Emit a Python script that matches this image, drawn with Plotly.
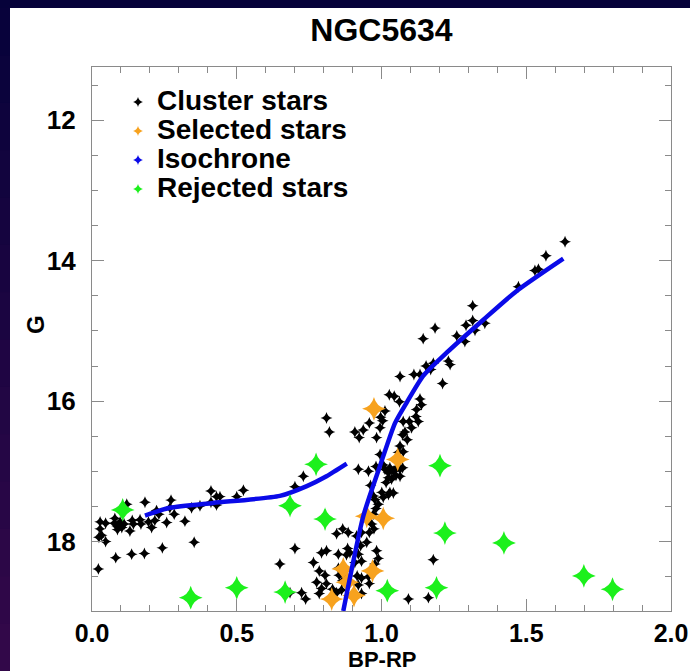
import plotly.graph_objects as go

# ---- data -------------------------------------------------------------
cluster_bprp = [
    0.022, 0.028, 0.028, 0.047, 0.033, 0.024, 0.047, 0.079, 0.077, 0.087,
    0.097, 0.088, 0.103, 0.111, 0.120, 0.131, 0.139, 0.143, 0.166, 0.169,
    0.183, 0.195, 0.206, 0.217, 0.223, 0.231, 0.258, 0.273, 0.269, 0.284,
    0.321, 0.344, 0.373, 0.411, 0.411, 0.430, 0.442, 0.430, 0.500, 0.523,
    0.701, 0.730, 0.776, 0.810, 0.820, 0.082, 0.137, 0.181, 0.243, 0.353,
    0.649, 0.701,
    0.738, 0.724, 0.684, 0.765, 0.785, 0.805, 0.776, 0.810, 0.793, 0.785,
    0.831, 0.845, 0.862, 0.793, 0.810, 0.851, 0.879, 0.891, 0.883, 0.845,
    0.866, 0.885, 0.914, 0.931, 0.958, 0.949, 0.928, 0.920, 0.931, 0.908,
    0.983, 0.989, 0.977, 0.851, 0.854, 0.866, 0.879, 0.916, 0.931, 0.920,
    0.958, 0.955, 0.931, 0.966, 0.974, 0.972, 0.981, 0.989, 0.977, 1.006,
    1.024, 1.041, 1.179, 1.093, 1.162, 1.001, 1.029, 0.972, 0.962, 1.016,
    1.024, 1.035, 1.050, 1.064, 0.920, 0.955, 0.981, 1.006, 1.012, 1.024,
    1.029, 1.041, 1.052, 1.064, 1.073, 0.995, 1.058, 1.075, 1.064, 1.089,
    1.081, 1.104, 1.127, 1.096, 1.075, 1.121, 1.133, 1.138, 1.119, 0.908,
    0.937, 0.923, 0.958, 0.997, 1.004, 0.995, 0.983, 1.012, 1.027, 1.044,
    1.062, 1.073,
    1.064, 1.112, 1.133, 1.154, 1.170, 1.179, 1.231, 1.237, 1.211, 1.144,
    1.185, 1.260, 1.288, 1.292, 1.315, 1.315, 1.323, 1.357, 1.473, 1.530,
    1.542, 1.568, 1.634,
]
cluster_g = [
    18.39, 17.72, 17.82, 17.74, 17.91, 17.94, 18.00, 17.67, 17.74, 17.78,
    17.72, 17.83, 17.80, 17.75, 17.47, 17.85, 17.70, 17.75, 17.69, 17.75,
    17.44, 17.72, 17.80, 17.70, 17.56, 17.61, 17.73, 17.41, 17.52, 17.61,
    17.71, 17.52, 17.49, 17.28, 17.44, 17.36, 17.36, 17.48, 17.36, 17.27,
    17.22, 17.07, 16.93, 16.24, 16.44, 18.23, 18.18, 18.17, 18.09, 18.01,
    18.32, 18.10,
    18.82, 18.73, 18.73, 18.30, 18.42, 18.48, 18.58, 18.60, 18.67, 18.74,
    18.68, 18.73, 18.69, 18.16, 18.13, 18.18, 18.19, 18.16, 18.10, 17.89,
    17.82, 17.87, 17.92, 17.87, 17.87, 18.01, 18.06, 18.18, 18.28, 18.30,
    18.13, 18.24, 18.32, 18.38, 18.48, 18.56, 18.52, 18.49, 18.52, 18.62,
    18.60, 18.50, 18.74, 17.75, 17.82, 17.61, 17.53, 17.47, 17.40, 17.37,
    17.33, 17.31, 18.26, 18.82, 18.80, 17.30, 17.30, 17.35, 17.20, 17.16,
    17.09, 17.11, 17.06, 17.07, 16.97, 17.00, 16.93, 16.91, 16.97, 17.02,
    16.95, 17.00, 16.95, 16.97, 16.95, 16.76, 16.73, 16.72, 16.64, 16.55,
    16.44, 16.38, 16.29, 16.29, 16.29, 16.12, 15.97, 16.05, 16.22, 16.44,
    16.41, 16.52, 16.31, 16.23, 16.28, 16.38, 16.52, 16.14, 15.91, 15.93,
    16.01, 16.48,
    15.65, 15.62, 15.62, 15.50, 15.55, 15.46, 15.43, 15.48, 15.75, 15.11,
    14.96, 15.07, 15.15, 14.92, 14.85, 14.64, 14.99, 14.89, 14.37, 14.14,
    14.12, 13.93, 13.73,
]

selected_bprp = [0.974, 1.056, 0.949, 1.006, 0.868, 0.969, 0.828, 0.905, 0.882]
selected_g = [16.11, 16.83, 17.64, 17.67, 18.39, 18.42, 18.82, 18.77, 18.58]

rejected_bprp = [0.106, 0.341, 0.500, 0.667, 0.684, 0.805, 0.774, 1.202,
                 1.219, 1.423, 1.699, 1.798, 1.020, 1.190]
rejected_g = [17.55, 18.80, 18.66, 18.72, 17.49, 17.68, 16.90, 16.92,
              17.88, 18.02, 18.49, 18.68, 18.70, 18.66]

# isochrone: horizontal branch, then the giant branch (None splits them)
iso_bprp = [0.183, 0.269, 0.419, 0.649, 0.742, 0.810, 0.880, None,
            0.868, 0.937, 0.995, 1.047, 1.087, 1.144, 1.225, 1.352, 1.467, 1.628]
iso_g = [17.63, 17.52, 17.45, 17.35, 17.21, 17.07, 16.89, None,
         18.99, 17.64, 16.92, 16.31, 16.02, 15.64, 15.31, 14.84, 14.43, 13.97]

x_ticks = [0.0, 0.5, 1.0, 1.5, 2.0]
x_ticklabels = ["0.0", "0.5", "1.0", "1.5", "2.0"]
y_ticks = [12, 14, 16, 18]
y_ticklabels = ["12", "14", "16", "18"]

legend_names = ["Cluster stars", "Selected stars", "Isochrone", "Rejected stars"]

# ---- styles -----------------------------------------------------------
BLACK = "#000000"
ORANGE = "#f7a21e"
BLUE = "#0a0ae8"
GREEN = "#1cf01c"
legend_colors = [BLACK, ORANGE, BLUE, GREEN]
FONT = "Liberation Sans, Arial, sans-serif"
AXIS_GREY = "#8a8a8a"

W, H = 690, 671
ML, MR, MT, MB = 92, 19, 67, 60


def px_to_paper_x(px):
    return (px - ML) / (W - ML - MR)


def px_to_paper_y(py):
    return (H - MB - py) / (H - MT - MB)


fig = go.Figure()

fig.add_trace(go.Scatter(
    x=cluster_bprp, y=cluster_g, mode="markers", showlegend=False,
    marker=dict(symbol="star-diamond", size=8.5, color=BLACK, line=dict(width=0)),
))
fig.add_trace(go.Scatter(
    x=selected_bprp, y=selected_g, mode="markers", showlegend=False,
    marker=dict(symbol="star-diamond", size=17, color=ORANGE, line=dict(width=0)),
))
fig.add_trace(go.Scatter(
    x=iso_bprp, y=iso_g, mode="lines", showlegend=False,
    line=dict(color=BLUE, width=4.5, shape="spline", smoothing=0.6),
    connectgaps=False,
))
fig.add_trace(go.Scatter(
    x=rejected_bprp, y=rejected_g, mode="markers", showlegend=False,
    marker=dict(symbol="star-diamond", size=17, color=GREEN, line=dict(width=0)),
))

# key: small star symbols on a hidden overlay axis in plot-fraction units
key_sym_x = px_to_paper_x(138)
key_text_x = px_to_paper_x(155)
key_rows_y = [px_to_paper_y(py) for py in (102, 131, 160, 189)]
fig.add_trace(go.Scatter(
    x=[key_sym_x] * len(legend_names), y=key_rows_y,
    xaxis="x2", yaxis="y2", mode="markers", showlegend=False, hoverinfo="skip",
    marker=dict(symbol="star-diamond", size=7, color=legend_colors,
                line=dict(width=0)),
))
annotations = [
    dict(text="<b>%s</b>" % name, xref="paper", yref="paper",
         x=key_text_x, y=yy + 1.5 / (H - MT - MB), xanchor="left",
         yanchor="middle", showarrow=False,
         font=dict(family=FONT, size=28, color="#000000"))
    for name, yy in zip(legend_names, key_rows_y)
]

# axis titles
annotations.append(dict(
    text="<b>BP-RP</b>", xref="paper", yref="paper",
    x=0.5, y=px_to_paper_y(659), xanchor="center", yanchor="middle",
    showarrow=False, borderpad=0,
    font=dict(family=FONT, size=22, color="#000000")))
annotations.append(dict(
    text="<b>G</b>", xref="paper", yref="paper",
    x=px_to_paper_x(35), y=px_to_paper_y(325), xanchor="center",
    yanchor="middle", textangle=-90, showarrow=False,
    font=dict(family=FONT, size=24, color="#000000")))

# dark frame on the top and left edges of the page
shapes = [dict(type="rect", xref="paper", yref="paper",
               x0=px_to_paper_x(0), x1=px_to_paper_x(W),
               y0=px_to_paper_y(8), y1=px_to_paper_y(0),
               fillcolor="#06023a", line=dict(width=0), layer="below")]
n_bands = 14
top_rgb = (6, 2, 58)
bot_rgb = (52, 8, 74)
for i in range(n_bands):
    t = (i + 0.5) / n_bands
    c = tuple(int(round(a + (b - a) * t)) for a, b in zip(top_rgb, bot_rgb))
    y_top = 8 + (H - 8) * i / n_bands
    y_bot = 8 + (H - 8) * (i + 1) / n_bands
    shapes.append(dict(type="rect", xref="paper", yref="paper",
                       x0=px_to_paper_x(0), x1=px_to_paper_x(10),
                       y0=px_to_paper_y(y_bot + 1), y1=px_to_paper_y(y_top),
                       fillcolor="rgb(%d,%d,%d)" % c, line=dict(width=0),
                       layer="below"))

axis_common = dict(
    showgrid=False, zeroline=False, showline=True, linecolor=AXIS_GREY,
    linewidth=1.2, mirror="ticks", ticks="inside", ticklen=12, tickwidth=1.2,
    tickcolor=AXIS_GREY, automargin=False,
)

fig.update_layout(
    width=W, height=H,
    margin=dict(l=ML, r=MR, t=MT, b=MB, autoexpand=False),
    paper_bgcolor="#ffffff", plot_bgcolor="#ffffff",
    showlegend=False,
    shapes=shapes,
    annotations=annotations,
    title=dict(text="<b>NGC5634</b>", x=0.5, xref="paper", xanchor="center",
               y=1 - 30 / H, yanchor="middle",
               font=dict(family=FONT, size=32, color="#000000")),
    xaxis=dict(
        range=[0, 2], tickvals=x_ticks, ticktext=x_ticklabels,
        minor=dict(dtick=0.1, ticks="inside", ticklen=6, tickwidth=1.2,
                   tickcolor=AXIS_GREY, showgrid=False),
        ticklabelstandoff=0,
        tickfont=dict(family=FONT, size=25, color="#000000", weight="bold"),
        **axis_common,
    ),
    yaxis=dict(
        range=[18.99, 11.24], tickvals=y_ticks, ticktext=y_ticklabels,
        minor=dict(dtick=0.5, ticks="inside", ticklen=6, tickwidth=1.2,
                   tickcolor=AXIS_GREY, showgrid=False),
        ticklabelstandoff=10,
        tickfont=dict(family=FONT, size=26, color="#000000", weight="bold"),
        **axis_common,
    ),
    xaxis2=dict(range=[0, 1], overlaying="x", anchor="y2", visible=False,
                fixedrange=True),
    yaxis2=dict(range=[0, 1], overlaying="y", anchor="x2", visible=False,
                fixedrange=True),
)

fig.write_html("out.html")
